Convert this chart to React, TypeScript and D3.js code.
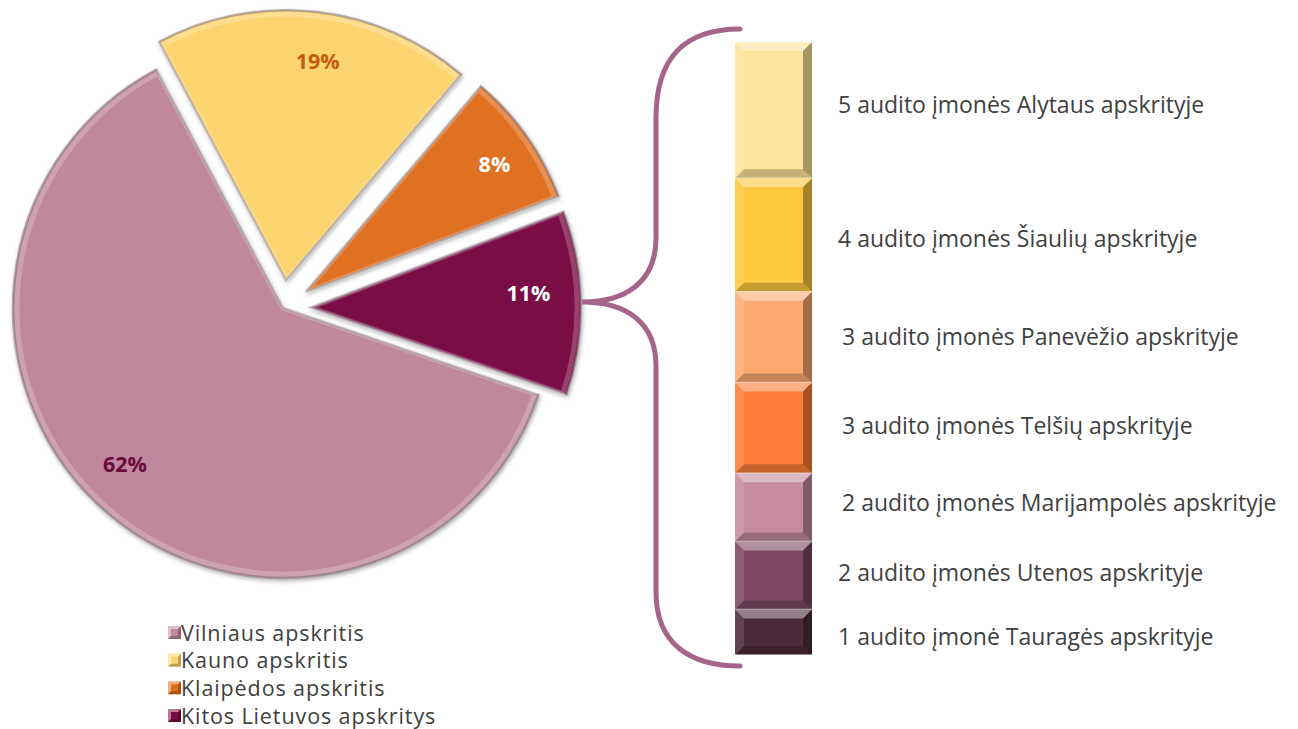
import React from "react";
import * as d3 from "d3";

// Pie data (share of audit firms by county)
const pieCategories = ["Vilniaus apskritis", "Kauno apskritis", "Klaipėdos apskritis", "Kitos Lietuvos apskritys"];
const pieValues = [62, 19, 8, 11];
const pieColors = ["#c0889d", "#fdd56f", "#e07020", "#7a0d44"];
const pieLabelColors = ["#6b0a3c", "#c55a11", "#ffffff", "#ffffff"];
const pieExploded = [false, true, true, true];
const labelAngleShift = [5, 2, 1, -3];
const labelRadius = [222, 222, 228, 218];

// Breakdown of "Kitos Lietuvos apskritys"
const barLabels = [
  "5 audito įmonės Alytaus apskrityje",
  "4 audito įmonės Šiaulių apskrityje",
  "3 audito įmonės Panevėžio apskrityje",
  "3 audito įmonės Telšių apskrityje",
  "2 audito įmonės Marijampolės apskrityje",
  "2 audito įmonės Utenos apskrityje",
  "1 audito įmonė Tauragės apskrityje",
];
const barCounts = [5, 4, 3, 3, 2, 2, 1];
// segment heights in the picture are proportional to (count + 1)
const barSegmentSizes = [6, 5, 4, 4, 3, 3, 2];
const barColors = ["#fee39a", "#fec83e", "#fdaa70", "#fd7d38", "#c58b9f", "#7d4761", "#4b2b39"];
const barLabelShift = [-6, 3, -1, -3, -5, -4, 4];
const barLabelX = [838, 838, 842, 842, 842, 838, 838];

const W = 1298;
const H = 729;
const cx = 283;
const cy = 308;
const R = 270;
const explode = 28;
const startDeg = 108.8;

const FONT = "'Open Sans', Lato, sans-serif";

export default function App() {
  const pie = d3
    .pie<number>()
    .sort(null)
    .value((d) => d)
    .startAngle((startDeg * Math.PI) / 180)
    .endAngle((startDeg * Math.PI) / 180 + 2 * Math.PI);
  const arcs = pie(pieValues);
  const arcGen = d3.arc<d3.PieArcDatum<number>>().innerRadius(0).outerRadius(R);

  // bar
  const bx0 = 735;
  const bx1 = 812;
  const total = d3.sum(barSegmentSizes);
  const y = d3.scaleLinear().domain([0, total]).range([42, 655]);
  const cum: number[] = [];
  barSegmentSizes.reduce((acc, v) => {
    cum.push(acc);
    return acc + v;
  }, 0);

  const b = 9;

  const bracePath =
    "M740,29 C690,29 656,52 656,118 L656,238 C656,282 626,302 582,302 " +
    "C626,302 656,322 656,366 L656,592 C656,644 690,666 740,666";

  const legendY = d3.scalePoint<string>().domain(pieCategories).range([632, 715]);

  return (
    <svg
      width={W}
      height={H}
      style={{ position: "absolute", left: 0, top: 0, background: "#fff" }}
      fontFamily={FONT}
    >
      <defs>
        <filter id="sh" x="-10%" y="-10%" width="120%" height="120%">
          <feDropShadow dx="1" dy="2" stdDeviation="2" floodColor="#000" floodOpacity="0.35" />
        </filter>
      </defs>

      {/* Pie */}
      {arcs.map((a, i) => {
        const mid = (a.startAngle + a.endAngle) / 2;
        const off = pieExploded[i] ? explode : 0;
        const dx = Math.sin(mid) * off;
        const dy = -Math.cos(mid) * off;
        const la = mid + (labelAngleShift[i] * Math.PI) / 180;
        const lx = Math.sin(la) * labelRadius[i];
        const ly = -Math.cos(la) * labelRadius[i];
        return (
          <g key={i} transform={`translate(${cx + dx},${cy + dy})`}>
            <path
              d={arcGen(a) || ""}
              fill={pieColors[i]}
              stroke="#8a7f84"
              strokeOpacity={0.6}
              strokeWidth={2.5}
              filter="url(#sh)"
            />
            <path
              d={arcGen(a) || ""}
              fill="none"
              stroke="#ffffff"
              strokeOpacity={0.22}
              strokeWidth={5}
              transform="scale(0.985)"
            />
            <text
              x={lx}
              y={ly}
              textAnchor="middle"
              dominantBaseline="central"
              fontWeight="bold"
              fontSize={21.5}
              fill={pieLabelColors[i]}
            >
              {pieValues[i]}%
            </text>
          </g>
        );
      })}

      {/* Legend */}
      {pieCategories.map((c, i) => {
        const ly = legendY(c) as number;
        return (
          <g key={c}>
            <rect x={168} y={ly - 6} width={13} height={13} fill={pieColors[i]} />
            <path d={`M168,${ly - 6} h13 l-3,3 h-7 v7 l-3,3 z`} fill="#ffffff" opacity={0.45} />
            <path d={`M181,${ly - 6} v13 h-13 l3,-3 h7 v-7 z`} fill="#000" opacity={0.25} />
            <text
              x={181}
              y={ly}
              dominantBaseline="central"
              fontSize={21.5}
              letterSpacing={0.9}
              fill="#404040"
            >
              {c}
            </text>
          </g>
        );
      })}

      {/* Brace */}
      <path d={bracePath} fill="none" stroke="#a5648a" strokeWidth={5} strokeLinecap="round" />

      {/* Stacked bar */}
      {barSegmentSizes.map((v, i) => {
        const y0 = y(cum[i]);
        const y1 = y(cum[i] + v);
        return (
          <g key={i}>
            <rect x={bx0} y={y0} width={bx1 - bx0} height={y1 - y0} fill={barColors[i]} />
            <polygon
              points={`${bx0},${y0} ${bx1},${y0} ${bx1 - b},${y0 + b} ${bx0 + b},${y0 + b}`}
              fill="#fff"
              opacity={0.4}
            />
            <polygon
              points={`${bx0},${y0} ${bx0 + b},${y0 + b} ${bx0 + b},${y1 - b} ${bx0},${y1}`}
              fill="#fff"
              opacity={0.12}
            />
            <polygon
              points={`${bx1},${y0} ${bx1},${y1} ${bx1 - b},${y1 - b} ${bx1 - b},${y0 + b}`}
              fill="#000"
              opacity={0.35}
            />
            <polygon
              points={`${bx0},${y1} ${bx0 + b},${y1 - b} ${bx1 - b},${y1 - b} ${bx1},${y1}`}
              fill="#000"
              opacity={0.22}
            />
            <line x1={bx0} x2={bx1} y1={y1} y2={y1} stroke="#ffffff" strokeOpacity={0.6} strokeWidth={1.5} />
            <text
              x={barLabelX[i]}
              y={(y0 + y1) / 2 + barLabelShift[i]}
              dominantBaseline="central"
              fontSize={23}
              fill="#404040"
            >
              {barLabels[i]}
            </text>
          </g>
        );
      })}
    </svg>
  );
}
